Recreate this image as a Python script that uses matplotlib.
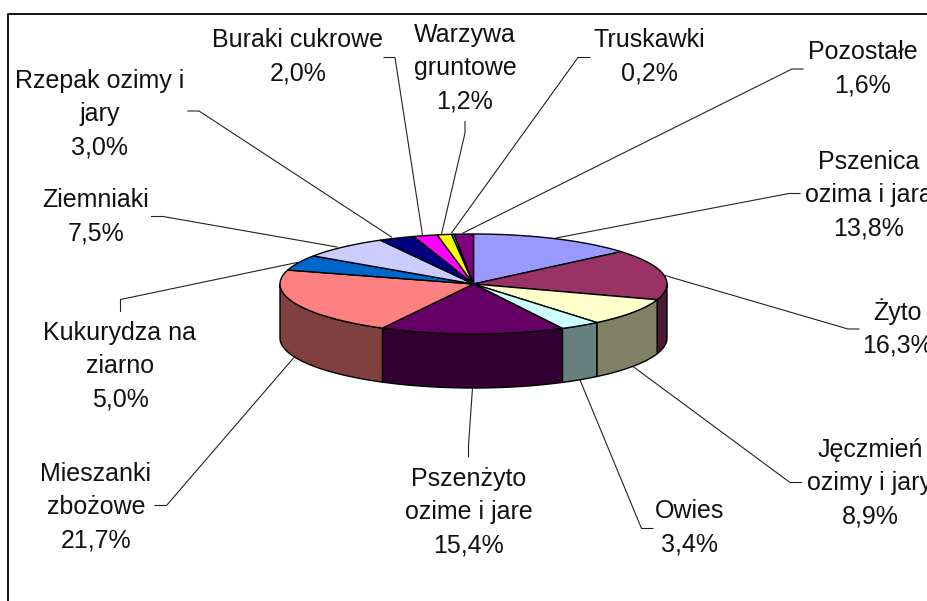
import matplotlib
matplotlib.use('Agg')
import matplotlib.pyplot as plt
from matplotlib.colors import to_rgb
from matplotlib.patches import Polygon
import numpy as np

# Data
labels = ['Pszenica\nozima i jara', 'Żyto', 'Jęczmień\nozimy i jary', 'Owies',
          'Pszenżyto\nozime i jare', 'Mieszanki\nzbożowe', 'Kukurydza na\nziarno',
          'Ziemniaki', 'Rzepak ozimy i\njary', 'Buraki cukrowe',
          'Warzywa\ngruntowe', 'Truskawki', 'Pozostałe']
values = [13.8, 16.3, 8.9, 3.4, 15.4, 21.7, 5.0, 7.5, 3.0, 2.0, 1.2, 0.2, 1.6]
colors = ['#9999FF', '#993366', '#FFFFCC', '#CCFFFF', '#660066', '#FF8080', '#0066CC',
          '#CCCCFF', '#000080', '#FF00FF', '#FFFF00', '#00FFFF', '#800080']

# Label block centres (pixels)
label_x = [869, 898, 870, 690, 469, 96, 120, 96, 100, 298, 465, 649, 863]
label_y = [195, 328, 483, 528, 512, 507, 366, 217, 114, 57, 68, 57, 69]

# Leader lines, pie end -> elbow -> label end (pixels)
leaders = [
    [(556, 238), (789, 193.5), (800, 193.5)],
    [(665, 275.5), (848, 329), (859, 329)],
    [(633, 366.5), (790, 482.5), (801.5, 482.5)],
    [(580, 380), (641.5, 528.5), (653, 528.5)],
    [(472.5, 388), (468.5, 445), (468.5, 457)],
    [(293.5, 358), (166.5, 505.5), (155, 505.5)],
    [(297, 262.5), (120.5, 299.5), (120.5, 311.5)],
    [(337, 247), (163, 216.5), (151.5, 216.5)],
    [(391.5, 237), (199, 111), (188, 111)],
    [(422.5, 235), (395, 57.5), (384, 57.5)],
    [(441.5, 234), (465, 133), (465, 121.5)],
    [(451.5, 233), (578, 57.5), (590, 57.5)],
    [(463, 233), (792, 69), (803, 69)],
]

# Pie geometry (pixels)
cx, cy = 473.5, 284
rx, ry = 193.5, 50
depth = 54


def rim(a, b):
    t = np.radians(np.linspace(a, b, max(int(abs(b - a) * 2), 2)))
    return cx + rx * np.sin(t), cy - ry * np.cos(t)


fig = plt.figure(figsize=(9.28, 6.01), dpi=100)
ax = fig.add_axes([0, 0, 1, 1])
ax.set_xlim(0, 928)
ax.set_ylim(601, 0)
ax.axis('off')

# Chart frame, only left and top are inside the picture
ax.plot([8.5, 8.5, 928], [601, 13.5, 13.5], color='black', lw=1.3)

for pts in leaders:
    ax.plot([p[0] for p in pts], [p[1] for p in pts], color='#222222', lw=0.8)

edges = np.cumsum([0] + values) / sum(values) * 360

# Side walls, front half only
for i, c in enumerate(colors):
    a = max(edges[i], 90)
    b = min(edges[i + 1], 270)
    if a >= b:
        continue
    x, y = rim(a, b)
    xy = np.r_[np.c_[x, y], np.c_[x[::-1], y[::-1] + depth]]
    dark = tuple(v * 0.5 for v in to_rgb(c))
    ax.add_patch(Polygon(xy, facecolor=dark, edgecolor='black', lw=1.0, zorder=3))

# Top face
for i, c in enumerate(colors):
    x, y = rim(edges[i], edges[i + 1])
    xy = np.r_[[[cx, cy]], np.c_[x, y]]
    ax.add_patch(Polygon(xy, facecolor=c, edgecolor='black', lw=1.0, zorder=4))

for i, name in enumerate(labels):
    txt = name + '\n' + f'{values[i]:.1f}%'.replace('.', ',')
    ax.text(label_x[i], label_y[i], txt, ha='center', va='center', multialignment='center',
            family='Liberation Sans', fontsize=18, color='#111111', linespacing=1.49, zorder=5)

fig.savefig('out.png', dpi=100)
